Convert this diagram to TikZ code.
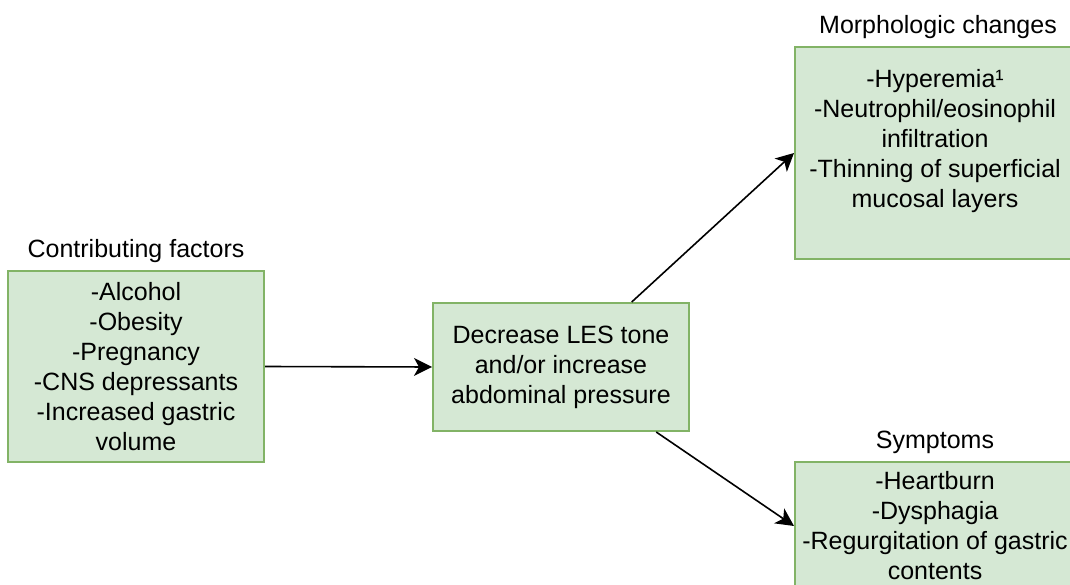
\documentclass[tikz,border=0pt]{standalone}
\usepackage{fontspec}
\setmainfont{Liberation Sans}
\usetikzlibrary{arrows.meta,positioning}

\definecolor{boxfill}{HTML}{D5E8D4}
\definecolor{boxline}{HTML}{82B366}

\begin{document}
\begin{tikzpicture}[x=1pt,y=-1pt,
    every node/.style={font=\fontsize{25}{30}\selectfont},
    greenbox/.style={draw=boxline,fill=boxfill,line width=2pt,inner sep=0pt,align=center},
    boxtitle/.style={inner sep=0pt},
    flow/.style={-{Stealth[length=18pt,width=18pt,inset=5pt]},line width=1.6pt}]
                \useasboundingbox (0,0) rectangle (1070,585);
                \node[greenbox,minimum width=256pt,minimum height=191pt] (factors) at (136,366.5)
                    {-Alcohol\\-Obesity\\-Pregnancy\\-CNS depressants\\-Increased gastric\\volume};
                \node[greenbox,minimum width=256pt,minimum height=128pt] (les) at (561,367)
                    {Decrease LES tone\\and/or increase\\abdominal pressure};
                \node[greenbox,minimum width=280pt,minimum height=212pt] (morph) at (935,153)
                    {-Hyperemia¹\\-Neutrophil/eosinophil\\infiltration\\-Thinning of superficial\\mucosal layers\\\mbox{}};
                \node[greenbox,minimum width=280pt,minimum height=128pt] (sympt) at (935,526)
                    {-Heartburn\\-Dysphagia\\-Regurgitation of gastric\\contents};
                \node[boxtitle,above=7pt of factors] {Contributing factors};
                \node[boxtitle,above=7pt of morph,xshift=3pt] {Morphologic changes};
                \node[boxtitle,above=7pt of sympt] {Symptoms};
                \draw[flow] (factors.east) -- (les.west);
                \draw[flow] (les) -- (morph.west);
                \draw[flow] (les) -- (sympt.west);
\end{tikzpicture}
\end{document}
